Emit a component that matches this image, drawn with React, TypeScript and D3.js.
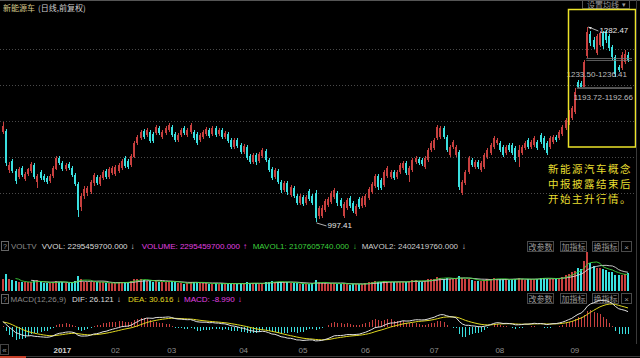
import React from "react";
import * as d3 from "d3";

const W = 640;
const H = 358;

const titleName = "新能源车";
const titleSuffix = "(日线,前复权)";
const monthLabels = ["2017", "02", "03", "04", "05", "06", "07", "08", "09"];
const monthIdx = [19, 36, 54, 77, 96, 116, 138, 159, 183];

// [open, close, high, low]
const candles: number[][] = [
  [1129,1138,1144,1126],[1130,1084,1133,1079],[1073,1081,1085,1069],[1087,1072,1090,1069],[1072,1057,1075,1053],
  [1063,1075,1078,1060],[1076,1066,1079,1063],[1060,1068,1071,1057],[1068,1075,1076,1065],[1072,1082,1085,1069],
  [1081,1063,1084,1060],[1056,1065,1068,1047],[1071,1062,1073,1059],[1065,1059,1068,1056],[1062,1056,1065,1053],
  [1057,1065,1068,1054],[1065,1076,1079,1062],
  [1075,1091,1094,1073],[1091,1084,1094,1081],[1084,1075,1087,1072],[1075,1081,1084,1072],[1082,1076,1085,1073],
  [1076,1066,1079,1063],[1066,1053,1069,1050],[1053,1015,1056,1005],[1019,1035,1040,1013],[1035,1046,1050,1031],
  [1040,1047,1050,1035],[1041,1056,1059,1038],[1054,1066,1069,1050],[1063,1054,1066,1051],[1053,1063,1066,1050],
  [1062,1071,1073,1059],[1072,1063,1075,1060],[1063,1075,1078,1060],[1069,1076,1079,1066],
  [1068,1078,1081,1065],[1072,1081,1084,1069],[1076,1087,1090,1073],[1091,1079,1094,1076],[1087,1078,1090,1075],
  [1081,1094,1097,1078],[1092,1113,1116,1091],[1113,1122,1125,1110],[1120,1129,1132,1117],[1130,1122,1133,1119],
  [1125,1132,1135,1122],[1129,1116,1132,1113],[1126,1116,1129,1113],[1128,1136,1139,1125],[1135,1128,1138,1125],
  [1122,1129,1132,1119],[1128,1135,1138,1125],[1132,1139,1142,1129],[1136,1125,1139,1122],
  [1126,1117,1129,1114],[1117,1125,1128,1114],[1125,1132,1135,1122],[1135,1128,1138,1125],[1125,1132,1135,1122],
  [1129,1139,1142,1126],[1129,1120,1132,1117],[1126,1113,1129,1110],[1117,1125,1128,1114],[1122,1129,1132,1119],
  [1126,1133,1136,1123],[1132,1123,1135,1120],[1126,1135,1138,1123],[1135,1125,1138,1122],[1126,1132,1135,1123],
  [1132,1122,1135,1119],[1122,1128,1130,1119],[1126,1116,1129,1113],[1117,1107,1120,1104],[1107,1117,1120,1104],
  [1117,1109,1120,1106],[1110,1100,1113,1097],[1100,1109,1111,1097],
  [1107,1091,1110,1088],[1094,1085,1097,1082],[1085,1095,1098,1082],[1095,1085,1098,1081],[1087,1097,1100,1084],
  [1094,1103,1106,1091],[1101,1088,1104,1085],[1088,1073,1091,1071],[1075,1062,1078,1059],[1063,1073,1076,1060],
  [1072,1056,1075,1053],[1056,1044,1059,1040],[1044,1054,1057,1041],[1054,1041,1057,1037],[1037,1049,1052,1034],
  [1047,1035,1050,1033],[1035,1025,1038,1022],[1025,1035,1038,1022],[1034,1024,1037,1021],[1025,1034,1037,1022],
  [1043,1031,1046,1028],[1035,1025,1038,1022],[1040,1003,1044,997.41],
  [1006,1018,1021,1002],[1006,1018,1022,1003],[1015,1028,1031,1012],[1022,1031,1034,1019],[1027,1040,1043,1024],
  [1034,1044,1047,1031],[1040,1025,1043,1021],[1030,1021,1033,1018],[1006,1024,1027,1003],[1018,1030,1033,1015],
  [1033,1021,1035,1018],[1025,1013,1028,1011],[1009,1021,1024,1006],[1031,1019,1034,1016],[1021,1033,1035,1018],
  [1022,1035,1038,1019],[1033,1046,1049,1030],[1041,1053,1056,1038],[1050,1065,1068,1047],[1065,1049,1068,1044],
  [1059,1047,1062,1044],[1052,1071,1073,1049],
  [1065,1076,1079,1062],[1063,1071,1073,1060],[1071,1062,1073,1059],[1063,1071,1073,1060],[1071,1081,1084,1068],
  [1076,1084,1087,1073],[1084,1069,1087,1066],[1066,1076,1079,1056],[1073,1088,1091,1071],[1085,1091,1094,1082],
  [1090,1084,1092,1081],[1088,1082,1091,1079],[1078,1091,1094,1075],[1088,1103,1106,1085],[1103,1113,1116,1100],
  [1106,1117,1120,1103],[1120,1136,1139,1117],[1122,1135,1138,1119],[1135,1122,1138,1119],[1122,1103,1125,1100],
  [1095,1107,1110,1092],[1107,1114,1117,1104],[1095,1107,1110,1092],
  [1100,1049,1103,1044],[1040,1056,1059,1037],[1054,1071,1073,1051],[1071,1091,1094,1068],[1088,1081,1091,1078],
  [1078,1085,1088,1075],[1085,1078,1088,1075],[1073,1084,1087,1071],[1078,1095,1098,1075],[1092,1103,1106,1090],
  [1098,1110,1113,1095],[1107,1120,1123,1104],[1113,1117,1120,1110],[1113,1103,1116,1100],[1107,1095,1110,1092],
  [1098,1107,1110,1095],[1110,1103,1113,1100],[1110,1098,1113,1095],[1106,1088,1109,1085],[1092,1103,1110,1078],
  [1098,1107,1110,1095],[1106,1113,1116,1103],[1117,1107,1120,1104],[1107,1114,1117,1104],[1110,1120,1123,1107],
  [1114,1106,1117,1103],[1125,1114,1128,1111],[1120,1106,1123,1103],[1113,1098,1116,1095],[1107,1120,1123,1104],
  [1114,1122,1125,1111],[1122,1117,1125,1114],[1120,1129,1132,1117],[1126,1136,1139,1123],[1135,1147,1150,1132],
  [1142,1158,1161,1139],[1150,1164,1167,1147],[1158,1188,1192.66,1155],[1202,1195,1205,1193.72],[1201,1194.5,1204,1194],
  [1195,1231,1233.5,1194.5],[1240,1275,1282.47,1236.41],[1272,1259,1277,1255],[1264,1253,1268,1250],[1245,1269,1272,1242],
  [1256,1274,1277,1253],[1274,1255,1277,1250],[1275,1264,1278,1259],[1269,1252,1272,1247],[1253,1239,1256,1234],
  [1239,1214,1242,1209],[1224,1220,1227,1217],[1223,1242,1246,1220],[1231,1243,1249,1228],[1242,1234,1246,1231],
];

// volume in 亿 (1e8)
const volume: number[] = [
  16, 22, 15, 14, 13, 12, 11, 11, 11, 12, 13, 14, 11, 10, 10, 10, 12,
  13, 12, 11, 10, 10, 11, 13, 19, 15, 12, 11, 12, 12, 11, 11, 11, 10, 10, 10,
  10, 11, 12, 11, 11, 13, 16, 15, 15, 14, 13, 13, 12, 13, 12, 11, 12, 13, 13,
  11, 10, 10, 9, 10, 11, 12, 12, 10, 10, 10, 9, 9, 10, 9, 10, 9, 10, 10, 9, 9, 10, 9,
  11, 10, 10, 10, 9, 10, 11, 12, 13, 11, 12, 12, 11, 12, 10, 10, 10, 9, 9, 9, 9, 10, 14,
  11, 10, 10, 9, 10, 10, 9, 9, 10, 9, 8, 9, 9, 9, 9, 10, 11, 12, 13, 12, 11, 13,
  12, 11, 11, 11, 12, 12, 12, 13, 14, 14, 12, 12, 13, 15, 15, 16, 18, 17, 16, 17, 16, 15, 16,
  19, 17, 16, 16, 14, 13, 13, 13, 14, 15, 15, 17, 16, 15, 15, 15, 14, 15, 16, 17, 15, 14, 15, 15, 16,
  16, 17, 17, 16, 16, 15, 16, 17, 18, 20, 22, 24, 26, 30, 28, 38, 50, 36, 32, 30, 30, 28, 27, 25, 24.8, 20, 21, 20, 21.5, 22.954597,
];

// MACD state read at the left edge of the chart (DIF, DEA before the first visible day)
const macdSeed = { dif: 9, dea: 8 };

const peakMark = { value: 1282.47, idx: 187, label: "1282.47" };
const lowMark = { value: 997.41, idx: 100, label: "997.41" };
const gaps = [
  { lo: 1233.5, hi: 1236.41, idx: 186, label: "1233.50-1236.41" },
  { lo: 1192.66, hi: 1193.72, idx: 183, label: "1193.72-1192.66" },
];
const noteLines = ["新能源汽车概念", "中报披露结束后", "开始主升行情。"];

const volHeader = [
  { t: "VVOL: 2295459700.000", a: "↓", c: "#dcdcdc" },
  { t: "VOLUME: 2295459700.000", a: "↑", c: "#e040e0" },
  { t: "MAVOL1: 2107605740.000", a: "↓", c: "#3ccf3c" },
  { t: "MAVOL2: 2402419760.000", a: "↓", c: "#cfcfcf" },
];
const volHeaderX = [41.7, 141.7, 252.7, 361.7];
const macdHeader = [
  { t: "DIF: 26.121", a: "↓", c: "#dcdcdc" },
  { t: "DEA: 30.616", a: "↓", c: "#e0d820" },
  { t: "MACD: -8.990", a: "↓", c: "#e040e0" },
];
const macdHeaderX = [72, 128, 184];
const buttons = ["改参数", "加指标", "换指标"];
const buttonX = [527, 560, 592];

const RED = "#c8403f";
const CYAN = "#3ae0e0";
const LAT = "'Liberation Sans', Arial, sans-serif";
const CJK = "'Noto Sans CJK SC', sans-serif";

function ema(arr: number[], n: number, start: number) {
  const k = 2 / (n + 1);
  const out: number[] = [];
  arr.forEach((v, i) => out.push(i === 0 ? start : k * v + (1 - k) * out[i - 1]));
  return out;
}
function ma(arr: number[], n: number) {
  return arr.map((_, i) => (i < n - 1 ? null : (d3.mean(arr.slice(i - n + 1, i + 1)) as number)));
}

function textWidthExact(s: string) {
  const w: Record<string, number> = {
    V: 5.34, O: 6.22, L: 4.45, U: 5.78, M: 6.66, E: 5.34, A: 5.34, D: 5.78, I: 2.22, F: 4.89, C: 5.78,
    ":": 2.22, " ": 2.22, ".": 2.22, "-": 2.66,
  };
  let t = 0;
  for (const ch of s) t += w[ch] ?? 4.45;
  return t;
}

export default function App() {
  const N = candles.length;
  const x = d3.scaleLinear().domain([0, N - 1]).range([3, 628]);
  const yP = d3.scaleLinear().domain([987.1, 1302.9]).range([229, 13]);
  const yV = d3.scaleLinear().domain([0, 50]).range([291, 252]);
  const yM = d3.scaleLinear().domain([-25, 38]).range([343, 303]);

  const closes = candles.map((c) => c[1]);
  const e12 = ema(closes, 12, closes[0]);
  const e26 = ema(closes, 26, closes[0] - macdSeed.dif);
  const dif = e12.map((v, i) => v - e26[i]);
  const dea = ema(dif, 9, macdSeed.dea);
  const hist = dif.map((v, i) => 2 * (v - dea[i]));
  const mv1 = ma(volume, 5);
  const mv2 = ma(volume, 10);

  const lineV = d3
    .line<number | null>()
    .defined((d) => d != null)
    .x((_, i) => x(i))
    .y((d) => yV(d as number));
  const lineM = d3
    .line<number>()
    .x((_, i) => x(i))
    .y((d) => yM(d));

  const gridYs = d3.range(1, 6).map((k) => 13 + (k * (229 - 13)) / 6);

  const pk = { x: x(peakMark.idx), y: yP(peakMark.value) };
  const lw = { x: x(lowMark.idx), y: yP(lowMark.value) };

  return (
    <svg width={W} height={H} style={{ position: "fixed", left: 0, top: 0, background: "#000" }}>
      <rect x={0} y={0} width={W} height={H} fill="#000" />
      <rect x={0} y={0} width={W} height={1} fill="#555" />

      {/* title */}
      <text x={3} y={11} fontFamily={CJK} fontSize={8} fill="#d6c88c">{titleName}</text>
      <text x={38} y={11} fontFamily={CJK} fontSize={8} fill="#cfcfcf">{titleSuffix}</text>

      {/* MA settings button */}
      <rect x={582.5} y={-3.5} width={47} height={12} fill="none" stroke="#555" />
      <text x={587} y={7.5} fontFamily={CJK} fontSize={8} fill="#9a9a9a">设置均线</text>
      <text x={622} y={7} fontFamily={LAT} fontSize={7} fill="#9a9a9a">▾</text>

      {/* grid */}
      {gridYs.map((gy, i) => (
        <line key={i} x1={0} x2={636} y1={Math.round(gy) + 0.5} y2={Math.round(gy) + 0.5} stroke="#4a4a4a" strokeDasharray="1 2" />
      ))}

      {/* candles */}
      {candles.map((c, i) => {
        const [o, cl, h, l] = c;
        const col = cl >= o ? RED : CYAN;
        const cx = Math.round(x(i));
        const top = yP(Math.max(o, cl));
        const bot = yP(Math.min(o, cl));
        return (
          <g key={i} shapeRendering="crispEdges">
            <rect x={cx} y={yP(h)} width={1} height={Math.max(1, yP(l) - yP(h))} fill={col} />
            <rect x={cx - 1} y={top} width={2} height={Math.max(1, bot - top)} fill={col} />
          </g>
        );
      })}

      {/* gaps */}
      {gaps.map((g, i) => (
        <g key={i}>
          <line x1={x(g.idx) + 2} x2={632} y1={yP(g.lo)} y2={yP(g.lo)} stroke="#777" strokeWidth={0.8} />
          <line x1={x(g.idx) + 2} x2={632} y1={yP(g.hi)} y2={yP(g.hi)} stroke="#777" strokeWidth={0.8} />
        </g>
      ))}
      <text x={627} y={yP(gaps[0].lo) + 17} textAnchor="end" fontFamily={LAT} fontSize={8} fill="#bdbdbd">{gaps[0].label}</text>
      <text x={633} y={yP(gaps[1].lo) + 12} textAnchor="end" fontFamily={LAT} fontSize={8} fill="#bdbdbd">{gaps[1].label}</text>

      {/* peak / low labels */}
      <line x1={pk.x + 1} y1={pk.y} x2={pk.x + 11} y2={pk.y + 4} stroke="#ddd" strokeWidth={0.8} />
      <path d={`M${pk.x + 1},${pk.y} l3.5,0 l-1.5,2.2 z`} fill="#ddd" />
      <text x={pk.x + 12} y={pk.y + 6} fontFamily={LAT} fontSize={8} fill="#e6e6e6">{peakMark.label}</text>
      <line x1={lw.x + 1} y1={lw.y + 1} x2={lw.x + 11} y2={lw.y + 4} stroke="#ddd" strokeWidth={0.8} />
      <text x={lw.x + 12} y={lw.y + 6} fontFamily={LAT} fontSize={8} fill="#e6e6e6">{lowMark.label}</text>

      {/* highlight box and note */}
      <rect x={568.5} y={9.5} width={67} height={137.5} fill="none" stroke="#ece32a" strokeWidth={1.5} />
      {noteLines.map((t, i) => (
        <text key={i} x={548} y={173 + i * 15.2} fontFamily={CJK} fontSize={10.5} letterSpacing={1.5} fill="#e8df30">{t}</text>
      ))}

      {/* volume header */}
      <rect x={1.5} y={241.5} width={7} height={9} fill="none" stroke="#666" />
      <text x={5} y={249} textAnchor="middle" fontFamily={LAT} fontSize={7} fill="#999">?</text>
      <text x={11} y={248.5} fontFamily={LAT} fontSize={8} fill="#8a8a8a">VOLTV</text>
      {volHeader.map((h, i) => (
        <g key={i}>
          <text x={volHeaderX[i]} y={248.5} fontFamily={LAT} fontSize={8} fill={h.c}>{h.t}</text>
          <text x={volHeaderX[i] + textWidthExact(h.t) + 3} y={248.5} fontFamily={LAT} fontSize={8} fill={h.c}>{h.a}</text>
        </g>
      ))}
      {buttons.map((b, i) => (
        <g key={i}>
          <rect x={buttonX[i] + 0.5} y={241.5} width={26} height={10} fill="none" stroke="#4a4a4a" />
          <text x={buttonX[i] + 13.5} y={249.5} textAnchor="middle" fontFamily={CJK} fontSize={8} fill="#9a9a9a">{b}</text>
        </g>
      ))}
      <rect x={621.5} y={241.5} width={10} height={10} fill="none" stroke="#4a4a4a" />
      <text x={626.5} y={249.5} textAnchor="middle" fontFamily={LAT} fontSize={8} fill="#9a9a9a">×</text>

      {/* volume bars */}
      {volume.map((v, i) => {
        const [o, cl] = candles[i];
        const cx = Math.round(x(i));
        return (
          <rect key={i} x={cx - 1} y={yV(v)} width={2} height={291 - yV(v)} fill={cl >= o ? RED : CYAN} shapeRendering="crispEdges" />
        );
      })}
      <path d={lineV(mv2) || ""} fill="none" stroke="#d8d8d8" strokeWidth={0.9} />
      <path d={lineV(mv1) || ""} fill="none" stroke="#3ccf3c" strokeWidth={0.9} />

      {/* MACD header */}
      <rect x={1.5} y={294.5} width={7} height={9} fill="none" stroke="#666" />
      <text x={5} y={302} textAnchor="middle" fontFamily={LAT} fontSize={7} fill="#999">?</text>
      <text x={10.5} y={301.5} fontFamily={LAT} fontSize={8} fill="#8a8a8a">MACD(12,26,9)</text>
      {macdHeader.map((h, i) => (
        <g key={i}>
          <text x={macdHeaderX[i]} y={301.5} fontFamily={LAT} fontSize={8} fill={h.c}>{h.t}</text>
          <text x={macdHeaderX[i] + textWidthExact(h.t) + 3} y={301.5} fontFamily={LAT} fontSize={8} fill={h.c}>{h.a}</text>
        </g>
      ))}
      {buttons.map((b, i) => (
        <g key={i}>
          <rect x={buttonX[i] + 0.5} y={293.5} width={26} height={10} fill="none" stroke="#4a4a4a" />
          <text x={buttonX[i] + 13.5} y={301.5} textAnchor="middle" fontFamily={CJK} fontSize={8} fill="#9a9a9a">{b}</text>
        </g>
      ))}
      <rect x={621.5} y={293.5} width={10} height={10} fill="none" stroke="#4a4a4a" />
      <text x={626.5} y={301.5} textAnchor="middle" fontFamily={LAT} fontSize={8} fill="#9a9a9a">×</text>

      {/* MACD histogram */}
      {hist.map((v, i) => {
        const cx = Math.round(x(i));
        const y0 = yM(0);
        const y1 = yM(v);
        return (
          <rect key={i} x={cx} y={Math.min(y0, y1)} width={1} height={Math.max(0.5, Math.abs(y1 - y0))} fill={v >= 0 ? RED : CYAN} shapeRendering="crispEdges" />
        );
      })}
      <path d={lineM(dea) || ""} fill="none" stroke="#e0d820" strokeWidth={1} />
      <path d={lineM(dif) || ""} fill="none" stroke="#e0e0e0" strokeWidth={1} />

      {/* right border */}
      <line x1={636.5} x2={636.5} y1={0} y2={344} stroke="#3a3a3a" />

      {/* bottom axis */}
      <rect x={0.5} y={344.5} width={8} height={10} fill="none" stroke="#444" />
      <text x={4.5} y={352.5} textAnchor="middle" fontFamily={LAT} fontSize={8} fill="#999">«</text>
      {monthLabels.map((m, i) => (
        <text key={i} x={x(monthIdx[i])} y={353} textAnchor="middle" fontFamily={LAT} fontSize={8}
          fontWeight={i === 0 ? "bold" : "normal"} fill={i === 0 ? "#cfcfcf" : "#8f8f8f"}>{m}</text>
      ))}
      <line x1={0} x2={W} y1={356.5} y2={356.5} stroke="#3a3a3a" />
      <rect x={0} y={356} width={26} height={2} fill="#c8402a" />
    </svg>
  );
}
